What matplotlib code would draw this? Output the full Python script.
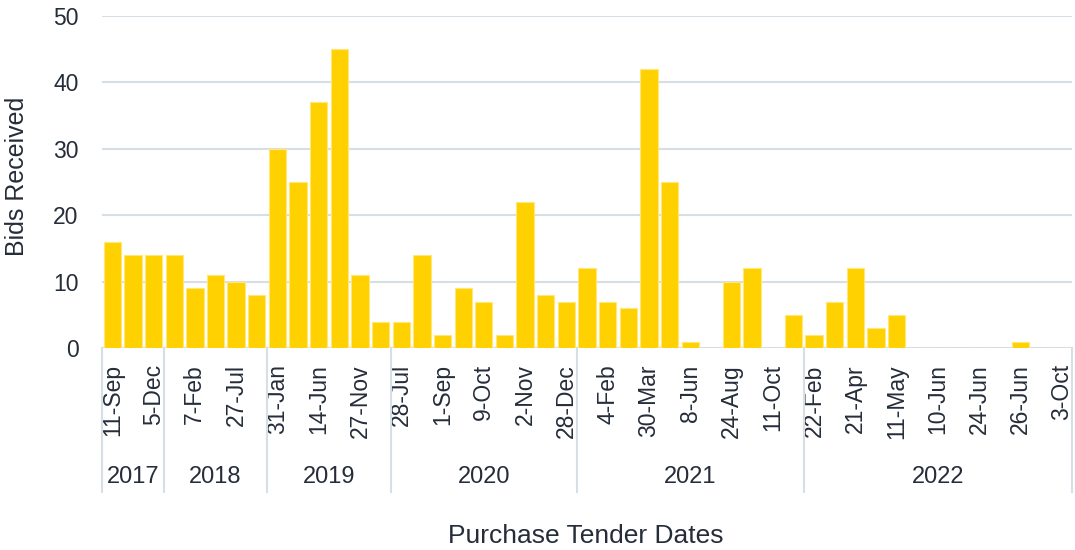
import matplotlib
matplotlib.use("Agg")
import matplotlib.pyplot as plt
from matplotlib.transforms import blended_transform_factory

plt.rcParams['font.family'] = ['Liberation Sans', 'DejaVu Sans']

# ---- data ----
bids = [16, 14, 14,
        14, 9, 11, 10, 8,
        30, 25, 37, 45, 11, 4,
        4, 14, 2, 9, 7, 2, 22, 8, 7,
        12, 7, 6, 42, 25, 1, 0, 10, 12, 0, 5,
        2, 7, 12, 3, 5, 0, 0, 0, 0, 0, 1, 0, 0]
date_labels = ["11-Sep", "", "5-Dec",
               "", "7-Feb", "", "27-Jul", "",
               "31-Jan", "", "14-Jun", "", "27-Nov", "",
               "28-Jul", "", "1-Sep", "", "9-Oct", "", "2-Nov", "", "28-Dec",
               "", "4-Feb", "", "30-Mar", "", "8-Jun", "", "24-Aug", "", "11-Oct", "",
               "22-Feb", "", "21-Apr", "", "11-May", "", "10-Jun", "", "24-Jun", "", "26-Jun", "", "3-Oct"]
years = ["2017", "2018", "2019", "2020", "2021", "2022"]
year_counts = [3, 5, 6, 9, 11, 13]

# ---- style ----
bar_color = "#FFD100"
edge_color = "#FFE77A"
grid_color = "#D6DEE6"
text_color = "#252D3A"

W, H = 1075, 550
fig = plt.figure(figsize=(W / 100, H / 100), dpi=100)
ax = fig.add_axes([102 / W, 1 - 348.3 / H, (1072 - 102) / W, (348.3 - 15.7) / H])

x = list(range(len(bids)))
ax.bar(x, bids, width=0.84, color=bar_color, edgecolor=edge_color, linewidth=0.8, zorder=3)

ax.set_xlim(-0.5, len(bids) - 0.5)
ax.set_ylim(0, 50)
ax.set_yticks([0, 10, 20, 30, 40, 50])
ax.yaxis.grid(True, color=grid_color, linewidth=1.5, zorder=0)
ax.set_axisbelow(True)
for s in ax.spines.values():
    s.set_visible(False)

ax.tick_params(axis='y', length=0, pad=17, labelsize=16.5, labelcolor=text_color)
ax.set_xticks(x)
ax.set_xticklabels(date_labels, rotation=90, fontsize=16.5, color=text_color)
ax.tick_params(axis='x', length=0, pad=11.5)

# year group separators and labels
trans = blended_transform_factory(ax.transData, ax.transAxes)
bottom = -(492 - 348.3) / (348.3 - 15.7)
start = -0.5
bounds = [start]
for c in year_counts:
    bounds.append(bounds[-1] + c)
for b in bounds:
    ax.plot([b, b], [0, bottom], transform=trans, color=grid_color, linewidth=1.5,
            clip_on=False, zorder=1)
year_y = -(476.7 - 348.3) / (348.3 - 15.7)
for i, yr in enumerate(years):
    mid = (bounds[i] + bounds[i + 1]) / 2
    ax.text(mid, year_y, yr, transform=trans, ha='center', va='center',
            fontsize=17, color=text_color)

fig.text(586 / W, 1 - 536 / H, "Purchase Tender Dates", ha='center', va='center',
         fontsize=19, color=text_color)
fig.text(17 / W, 1 - 176 / H, "Bids Received", ha='center', va='center',
         rotation=90, fontsize=18, color=text_color)

fig.savefig("out.png", dpi=100, facecolor="white")
